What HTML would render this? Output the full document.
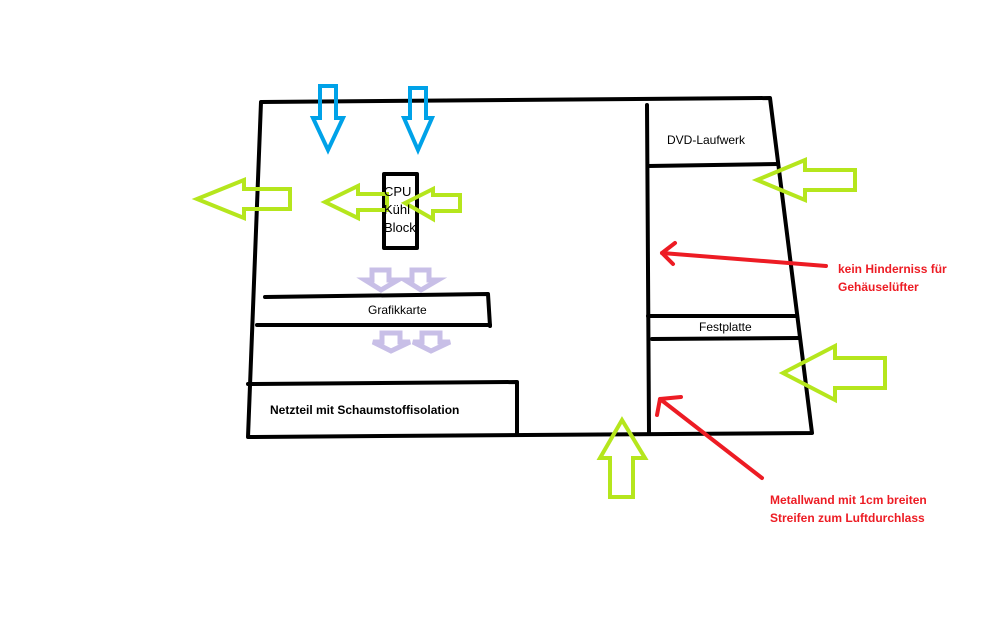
<!DOCTYPE html>
<html><head><meta charset="utf-8"><style>
html,body{margin:0;padding:0;background:#fff;width:1008px;height:630px;overflow:hidden}
svg text{font-family:"Liberation Sans","DejaVu Sans",sans-serif}
</style></head><body>
<svg width="1008" height="630" viewBox="0 0 1008 630" xmlns="http://www.w3.org/2000/svg">
<g fill="none" stroke="#000" stroke-width="4" stroke-linecap="round" stroke-linejoin="round">
<path d="M261,102 L770,98 L812,433 L248,437 Z"/>
<path d="M647,105 L649,433"/>
<path d="M648,166 L778,164"/>
<path d="M648,316 L797,316"/>
<path d="M652,339 L800,338"/>
<path d="M265,297 L488,294 L490,326"/>
<path d="M257,325 L490,325"/>
<path d="M248,384 L517,382 L517,435"/>
<rect x="384" y="174" width="33" height="74"/>
</g>
<g fill="none" stroke="#00a2e8" stroke-width="4" stroke-linejoin="miter">
<path d="M320,86 L336,86 L336,118 L343,118 L328,150 L313,118 L320,118 Z"/>
<path d="M410,88 L426,88 L426,118 L432,118 L418,150 L404,118 L410,118 Z"/>
</g>
<g fill="none" stroke="#b5e61d" stroke-width="4" stroke-linejoin="miter">
<path d="M197,199 L244,180 L244,189 L290,189 L290,209 L244,209 L244,218 Z"/>
<path d="M325,202 L358,186 L358,194 L387,194 L387,210 L358,210 L358,218 Z"/>
<path d="M405,203 L433,189 L433,195 L460,195 L460,211 L433,211 L433,219 Z"/>
<path d="M757,180 L805,160 L805,170 L855,170 L855,190 L805,190 L805,200 Z"/>
<path d="M783,373 L835,346 L835,358 L885,358 L885,388 L835,388 L835,400 Z"/>
<path d="M622,420 L645,458 L633,458 L633,497 L610,497 L610,458 L600,458 Z"/>
</g>
<g fill="none" stroke="#c8bfe7" stroke-width="5" stroke-linejoin="miter">
<path d="M372,270 L389,270 L389,280 L398,280 L381,290 L365,280 L372,280 Z"/>
<path d="M412,270 L429,270 L429,280 L438,280 L421,290 L405,280 L412,280 Z"/>
<path d="M382,333 L400,333 L400,342 L410,342 L391,351 L373,342 L382,342 Z"/>
<path d="M422,333 L440,333 L440,342 L450,342 L431,351 L413,342 L422,342 Z"/>
</g>
<g fill="none" stroke="#ed1c24" stroke-width="4" stroke-linecap="round" stroke-linejoin="round">
<path d="M826,266 L662,253"/>
<path d="M675,243 L662,253 L673,264"/>
<path d="M762,478 L660,399"/>
<path d="M681,397 L660,399 L657,415"/>
</g>
<g font-size="12" fill="#000">
<text x="667" y="144">DVD-Laufwerk</text>
<text x="699" y="331">Festplatte</text>
<text x="368" y="314">Grafikkarte</text>
<text x="270" y="414" font-weight="bold">Netzteil mit Schaumstoffisolation</text>
</g>
<g font-size="13" fill="#000">
<text x="384" y="196">CPU</text>
<text x="384" y="214">Kühl</text>
<text x="384" y="232">Block</text>
</g>
<g font-size="12" fill="#ed1c24" font-weight="bold">
<text x="838" y="273">kein Hinderniss für</text>
<text x="838" y="291">Gehäuselüfter</text>
<text x="770" y="504">Metallwand mit 1cm breiten</text>
<text x="770" y="522">Streifen zum Luftdurchlass</text>
</g>
</svg>
</body></html>
